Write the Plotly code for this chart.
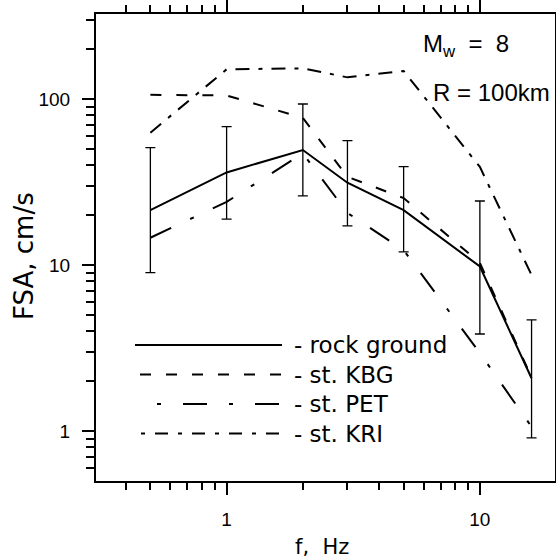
import numpy as np
import plotly.graph_objects as go

# ---- data ----
freq = [0.5, 1, 2, 3, 5, 10, 16]
rock = [21.4, 36.1, 49.3, 31.3, 21.4, 9.8, 2.08]
rock_hi = [50.9, 68.1, 93.3, 56.1, 39.1, 24.3, 4.67]
rock_lo = [9.0, 18.9, 26.1, 17.2, 12.0, 3.84, 0.91]
kbg = [106, 105, 77, 34, 25.3, 10.3, 2.1]
pet = [14.6, 24.0, 47, 20.6, 12.3, 2.95, 1.06]
kri = [62.7, 151, 153, 135, 147.5, 39, 8.7]

legend_labels = ["rock ground", "st. KBG", "st. PET", "st. KRI"]
x_major = [1, 10]
x_major_text = ["1", "10"]
x_minor = [0.4, 0.5, 0.6, 0.7, 0.8, 0.9, 2, 3, 4, 5, 6, 7, 8, 9]
y_major = [1, 10, 100]
y_major_text = ["1", "10", "100"]
y_minor = [0.6, 0.7, 0.8, 0.9, 2, 3, 4, 5, 6, 7, 8, 9,
           20, 30, 40, 50, 60, 70, 80, 90, 200, 300]

# ---- geometry (pixels) ----
W, H = 556, 560
L, R, T, B = 96, 555, 14, 481


def px(x):
    return (x - L) / (R - L)


def py(y):
    return (B - y) / (B - T)


fig = go.Figure()

rock_err_plus = [h - v for h, v in zip(rock_hi, rock)]
rock_err_minus = [v - l for v, l in zip(rock, rock_lo)]

fig.add_trace(go.Scatter(x=freq, y=kri, mode="lines",
                         line=dict(color="black", width=2, dash="14px,9px,4px,9px")))
fig.add_trace(go.Scatter(x=freq, y=pet, mode="lines",
                         line=dict(color="black", width=2, dash="23px,21px,4px,21px")))
fig.add_trace(go.Scatter(x=freq, y=kbg, mode="lines",
                         line=dict(color="black", width=2, dash="11px,15px")))
fig.add_trace(go.Scatter(x=freq, y=rock, mode="lines",
                         line=dict(color="black", width=2),
                         error_y=dict(type="data", symmetric=False,
                                      array=rock_err_plus, arrayminus=rock_err_minus,
                                      color="black", thickness=1.3, width=5)))

# ---- legend (line keys + labels) ----
rows_y = [345, 374.5, 404, 433.5]
key_x0 = [135, 140, 157, 141]
key_dash = ["solid", "11px,15px", "4px,22px,24px,22px", "4px,10px,13px,10px"]
for yy, x0, d, lab in zip(rows_y, key_x0, key_dash, legend_labels):
    fig.add_shape(type="line", xref="paper", yref="paper",
                  x0=px(x0), x1=px(282), y0=py(yy), y1=py(yy),
                  line=dict(color="black", width=2, dash=d))
    fig.add_annotation(xref="paper", yref="paper", x=px(293), y=py(yy),
                       text="- " + lab, showarrow=False, xanchor="left",
                       yanchor="middle", borderpad=0,
                       font=dict(family="DejaVu Sans", size=23, color="black"))

# ---- text annotations ----
fig.add_annotation(xref="paper", yref="paper", x=px(422), y=py(46),
                   text="M<sub>w</sub>\u00a0\u00a0=\u00a0\u00a08", showarrow=False,
                   xanchor="left", yanchor="middle", borderpad=0,
                   font=dict(family="Liberation Sans", size=24, color="black"))
fig.add_annotation(xref="paper", yref="paper", x=px(432), y=py(93),
                   text="R = 100km", showarrow=False, xanchor="left",
                   yanchor="middle", borderpad=0,
                   font=dict(family="Liberation Sans", size=24, color="black"))

# axis titles
fig.add_annotation(xref="paper", yref="paper", x=px(24), y=py(256),
                   text="FSA, cm/s", showarrow=False, textangle=-90,
                   xanchor="center", yanchor="middle",
                   font=dict(family="DejaVu Sans", size=26, color="black"))
fig.add_annotation(xref="paper", yref="paper", x=px(322), y=py(547),
                   text="f,\u00a0\u00a0Hz", showarrow=False,
                   xanchor="center", yanchor="middle",
                   font=dict(family="DejaVu Sans", size=21, color="black"))

axis_common = dict(type="log", showline=True, linewidth=2, linecolor="black",
                   mirror="ticks", showgrid=False, zeroline=False, automargin=False,
                   ticks="outside", ticklen=12, tickwidth=1.8, tickcolor="black",
                   tickfont=dict(family="Liberation Sans", size=19, color="black"))

fig.update_xaxes(range=[np.log10(0.305), np.log10(19.8)],
                 tickvals=x_major, ticktext=x_major_text,
                 minor=dict(tickvals=x_minor, ticks="outside", ticklen=7,
                            tickwidth=1.5, tickcolor="black", showgrid=False),
                 ticklabelstandoff=8, **axis_common)
fig.update_yaxes(range=[np.log10(0.5), 2.512],
                 tickvals=y_major, ticktext=y_major_text,
                 minor=dict(tickvals=y_minor, ticks="outside", ticklen=8,
                            tickwidth=1.5, tickcolor="black", showgrid=False),
                 ticklabelstandoff=8, **axis_common)

fig.update_layout(width=W, height=H, showlegend=False, autosize=False,
                  margin=dict(l=L, r=W - R, t=T, b=H - B, pad=0, autoexpand=False),
                  plot_bgcolor="white", paper_bgcolor="white")

fig.write_html(
    "out.html",
    config={"responsive": False, "displayModeBar": False},
    post_script=("document.body.style.margin='0';"
                 "document.body.style.overflow='hidden';"
                 "document.documentElement.style.overflow='hidden';"),
)
